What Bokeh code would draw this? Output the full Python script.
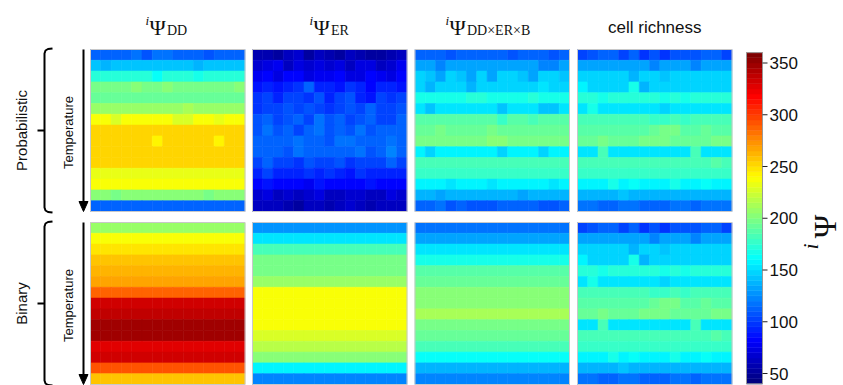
import numpy as np
from bokeh.plotting import figure
from bokeh.models import Range1d, ColumnDataSource, LinearColorMapper
from bokeh.core.properties import value
from bokeh.embed import file_html
from bokeh.resources import INLINE

# ---------------- data (15 x 15 grids, rows top -> bottom) ----------------
col_titles = ["DD", "ER", "DD\u00d7ER\u00d7B", "cell richness"]
row_labels = ["Probabilistic", "Binary"]
cbar_ticks = [50, 100, 150, 200, 250, 300, 350]
v_low, v_high = 40, 360

psi_dd_prob = [
    [112,114,110,110,118,108,116,118,110,112,110,108,112,110,114],
    [140,138,140,142,140,140,140,140,140,140,138,140,140,142,140],
    [170,170,170,170,170,170,160,172,172,172,165,170,170,170,170],
    [196,198,196,196,200,196,198,200,196,196,196,196,196,196,200],
    [194,194,194,194,194,194,194,194,194,194,194,194,194,194,194],
    [208,208,206,208,208,208,208,208,208,210,208,208,208,208,208],
    [236,236,226,236,236,236,236,236,228,226,236,236,230,236,236],
    [252,252,252,252,252,252,252,252,252,252,252,252,252,252,252],
    [252,252,252,252,252,252,244,252,252,252,252,252,244,252,252],
    [252,252,252,252,252,252,252,252,252,252,252,252,252,252,252],
    [250,250,250,250,250,250,250,250,250,250,250,250,250,250,250],
    [232,232,232,232,232,232,232,232,232,232,232,232,232,232,232],
    [238,238,238,238,238,238,238,238,238,238,238,238,238,238,238],
    [200,200,198,202,200,200,204,200,202,204,200,198,200,204,200],
    [112,112,114,110,110,110,110,110,110,110,110,112,110,110,112],
]

psi_er_prob = [
    [58,55,52,60,65,50,62,55,50,60,58,52,50,55,62],
    [66,70,78,64,72,68,74,66,72,64,70,74,62,66,76],
    [76,84,74,80,82,72,78,76,84,74,70,82,78,72,80],
    [86,92,88,90,96,112,90,94,86,98,92,84,90,94,88],
    [96,100,92,102,104,98,106,94,100,106,92,88,102,96,100],
    [98,104,100,106,102,108,104,98,102,106,100,110,104,102,106],
    [106,112,104,108,110,102,116,106,110,104,108,112,102,100,110],
    [108,118,106,110,104,112,118,106,110,106,116,108,114,110,112],
    [112,110,114,110,116,112,114,108,116,118,112,110,114,116,110],
    [110,114,112,108,116,110,112,114,110,112,116,108,110,124,114],
    [104,110,102,100,98,106,104,102,106,98,104,100,102,112,104],
    [94,100,90,94,92,96,90,98,92,88,96,94,92,90,94],
    [82,86,80,84,82,78,86,82,84,80,82,86,82,80,84],
    [66,70,64,68,62,66,70,64,62,68,66,62,64,70,66],
    [60,64,62,58,52,60,64,58,62,66,60,56,62,64,60],
]

psi_ddxerxb_prob = [
    [112,110,112,106,112,112,110,112,112,106,112,112,110,106,112],
    [130,132,122,130,130,132,130,130,130,132,130,130,124,122,130],
    [146,144,132,146,144,132,146,134,146,146,144,134,146,146,144],
    [148,136,148,148,148,136,148,148,148,148,148,148,150,148,148],
    [168,168,168,168,168,172,172,168,168,168,168,172,168,168,168],
    [152,140,152,152,152,152,152,152,142,152,152,152,140,142,152],
    [186,186,188,186,186,186,186,186,176,186,186,180,186,186,186],
    [192,194,198,194,192,192,192,198,192,192,192,192,192,194,192],
    [196,196,198,196,196,196,198,200,200,198,196,196,196,196,196],
    [156,146,156,156,156,156,156,156,146,156,156,156,146,156,156],
    [180,180,180,180,182,180,180,180,180,180,180,180,180,180,180],
    [176,176,176,176,176,176,176,176,176,176,176,176,176,176,176],
    [158,156,158,150,158,158,158,150,158,158,156,158,158,150,158],
    [136,136,134,136,136,136,136,136,136,136,134,136,136,136,136],
    [114,112,116,108,114,108,108,108,114,112,114,114,108,108,114],
]

cell_richness = [
    [100,108,110,110,104,110,98,106,98,108,108,108,110,110,100],
    [134,134,134,134,134,134,134,124,134,134,134,124,134,134,134],
    [148,148,148,148,148,138,148,148,140,148,148,148,148,148,148],
    [158,146,146,146,146,166,136,146,146,146,146,146,146,146,146],
    [174,174,168,174,174,174,174,174,168,174,168,174,174,174,174],
    [150,168,152,152,150,152,150,152,148,152,152,152,150,152,152],
    [182,184,182,182,184,182,182,176,176,182,176,182,182,182,182],
    [186,188,188,188,188,188,188,192,196,196,188,188,192,188,188],
    [190,190,198,192,192,194,196,198,196,192,192,190,192,196,196],
    [150,150,180,150,150,150,150,150,150,150,150,180,150,150,150],
    [180,180,180,182,180,180,180,180,180,180,180,180,180,188,180],
    [176,176,176,176,176,176,176,176,176,176,176,176,176,176,176],
    [156,156,156,168,156,160,156,156,156,168,156,156,160,156,156],
    [138,138,138,138,140,138,138,138,138,138,138,138,138,138,138],
    [118,118,114,110,118,118,114,110,110,118,118,114,118,118,118],
]

# binary panels: values constant along each row (one value per row)
psi_dd_bin_rows = [205,236,248,258,260,269,289,330,336,346,346,328,334,290,256]
psi_er_bin_rows = [126,150,182,195,199,208,238,238,238,238,228,215,202,155,124]
psi_ddxerxb_bin_rows = [118,133,152,165,188,192,200,202,210,197,190,182,160,138,122]
N_COLS = 15

def row_grid(rows):
    return [[v for _ in range(N_COLS)] for v in rows]

grids = [
    [psi_dd_prob, psi_er_prob, psi_ddxerxb_prob, cell_richness],
    [row_grid(psi_dd_bin_rows), row_grid(psi_er_bin_rows),
     row_grid(psi_ddxerxb_bin_rows), cell_richness],
]

# ---------------- style / layout ----------------
def jet(n):
    out = []
    for i in range(n):
        t = i / (n - 1)
        r = min(max(1.5 - abs(4 * t - 3), 0), 1)
        g = min(max(1.5 - abs(4 * t - 2), 0), 1)
        b = min(max(1.5 - abs(4 * t - 1), 0), 1)
        out.append("#%02x%02x%02x" % (round(r * 255), round(g * 255), round(b * 255)))
    return out

palette = jet(64)
mapper = LinearColorMapper(palette=palette, low=v_low, high=v_high)

SANS = "Liberation Sans"
SERIF = "Liberation Serif"
panel_x = [90, 252, 414.5, 577]
panel_y = [49, 222]
PW, PH = 154.5, 162

W, H = 843, 385
p = figure(width=W, height=H, x_range=Range1d(0, W), y_range=Range1d(H, 0),
           output_backend="svg", toolbar_location=None, min_border=0,
           x_axis_location=None, y_axis_location=None, outline_line_color=None)
p.grid.visible = False
p.background_fill_color = "white"

xs, ys, ws, hs, vs = [], [], [], [], []
for r in range(2):
    for c in range(4):
        g = np.array(grids[r][c], dtype=float)
        nr, nc = g.shape
        cw, ch = PW / nc, PH / nr
        for i in range(nr):
            for j in range(nc):
                xs.append(panel_x[c] + (j + 0.5) * cw)
                ys.append(panel_y[r] + (i + 0.5) * ch)
                ws.append(cw)
                hs.append(ch)
                vs.append(g[i, j])
src = ColumnDataSource(dict(x=xs, y=ys, w=ws, h=hs, v=vs))
p.rect(x="x", y="y", width="w", height="h", source=src,
       fill_color={"field": "v", "transform": mapper},
       line_color={"field": "v", "transform": mapper}, line_width=0.6)

# panel outlines
for r in range(2):
    for c in range(4):
        p.rect(x=panel_x[c] + PW / 2, y=panel_y[r] + PH / 2, width=PW, height=PH,
               fill_color=None, line_color="#c8c8c8", line_width=1)

# ---------------- column titles ----------------
title_y = 27
ti = [("DD", 145), ("ER", 309), ("DD\u00d7ER\u00d7B", 445)]
for (sub, x0) in ti:
    p.text(x=[x0], y=[title_y - 7], text=["i"], text_font=value(SERIF), text_font_style="italic",
           text_font_size="13px", text_baseline="alphabetic", text_align="left", text_color="#111")
    p.text(x=[x0 + 4], y=[title_y], text=["\u03a8"], text_font=value(SERIF),
           text_font_size="22px", text_baseline="alphabetic", text_align="left", text_color="#111")
    p.text(x=[x0 + 21.5], y=[title_y + 3], text=[sub], text_font=value(SERIF),
           text_font_size="14px", text_baseline="alphabetic", text_align="left", text_color="#111")
p.text(x=[panel_x[3] + PW / 2], y=[title_y], text=[col_titles[3]], text_font=value(SANS),
       text_font_size="17px", text_baseline="alphabetic", text_align="center", text_color="#111")

# ---------------- row labels, brackets, arrows ----------------
for r in range(2):
    top = panel_y[r] - 1
    bot = panel_y[r] + PH + 1
    mid = (top + bot) / 2
    p.text(x=[21], y=[mid], text=[row_labels[r]], angle=np.pi / 2, text_font=value(SANS),
           text_font_size="15px", text_align="center", text_baseline="middle", text_color="#111")
    p.text(x=[68], y=[mid + 2], text=["Temperature"], angle=np.pi / 2, text_font=value(SANS),
           text_font_size="13px", text_align="center", text_baseline="middle", text_color="#111")
    bx = 44
    p.line(x=[52, 47.5, 45, bx, bx, 45, 47.5, 52],
           y=[top, top + 0.5, top + 2, top + 5, bot - 5, bot - 2, bot - 0.5, bot],
           line_color="black", line_width=2)
    p.line(x=[37, bx], y=[mid, mid], line_color="black", line_width=2)
    ax = 83
    tip = bot - 1
    p.line(x=[ax, ax], y=[top + 1, tip - 6], line_color="black", line_width=2)
    p.patch(x=[ax - 4.5, ax + 4.5, ax], y=[tip - 10, tip - 10, tip], fill_color="black",
            line_color="black", line_width=1)

# ---------------- colorbar ----------------
def cb_y(v):
    return 62.5 + (350 - v) * 1.035

n = len(palette)
step = (v_high - v_low) / n
lo_edges = [v_low + k * step for k in range(n)]
p.quad(left=746, right=762, bottom=[cb_y(e) for e in lo_edges],
       top=[cb_y(e + step) for e in lo_edges], fill_color=palette, line_color=palette,
       line_width=0.5)
p.rect(x=754, y=(cb_y(v_low) + cb_y(v_high)) / 2, width=16, height=cb_y(v_low) - cb_y(v_high),
       fill_color=None, line_color="#999999", line_width=1)
p.segment(x0=762, x1=767, y0=[cb_y(t) for t in cbar_ticks], y1=[cb_y(t) for t in cbar_ticks],
          line_color="#222", line_width=1)
p.text(x=769, y=[cb_y(t) for t in cbar_ticks], text=[str(t) for t in cbar_ticks],
       text_font=value(SANS), text_font_size="17px", text_align="left", text_baseline="middle",
       text_color="#111")
# colorbar label  iΨ (rotated)
p.text(x=[824], y=[226], text=["\u03a8"], angle=np.pi / 2, text_font=value(SERIF),
       text_font_size="32px", text_align="center", text_baseline="middle", text_color="#111")
p.text(x=[810], y=[246], text=["i"], angle=np.pi / 2, text_font=value(SERIF),
       text_font_style="italic", text_font_size="22px", text_align="center",
       text_baseline="middle", text_color="#111")

open("out.html", "w").write(file_html(p, INLINE))
